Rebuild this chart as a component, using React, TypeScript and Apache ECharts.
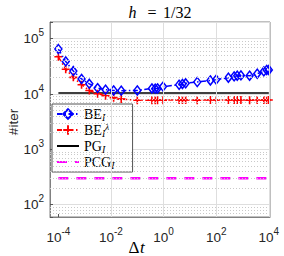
import React, { useEffect, useRef } from 'react';
import * as echarts from 'echarts';

// time steps (Δt)
const dt = [
  1e-4, 1.9e-4, 3.7e-4, 7.6e-4, 1.5e-3, 3.1e-3, 6.2e-3, 1.26e-2, 2.45e-2, 0.1,
  0.36, 0.48, 0.59, 0.95, 3.9, 5.2, 6.9, 19, 60, 100,
  290, 480, 630, 870, 1860, 3630, 6460, 8300, 10000,
];
// iterations BE_I
const beIter = [
  65000, 38800, 26000, 18700, 15300, 12800, 12000, 11600, 11500, 11600,
  12600, 12500, 12600, 13600, 14700, 15200, 15600, 16500, 17600, 18200,
  19700, 20800, 21400, 21700, 21400, 23300, 25600, 27200, 27200,
];
// iterations BE_I^lambda
const beLambdaIter = [
  47000, 28000, 20000, 14700, 11600, 10100, 9300, 8600, 8100, 7700,
  7700, 7700, 7700, 7750, 7800, 7800, 7800, 7750, 7800, 7800,
  7800, 7800, 7800, 7800, 7750, 7800, 7800, 7800, 7800,
];
// PG_I and PCG_I (constant lines)
const pgDt = [1e-4, 1e4];
const pgIter = [10400, 10400];
const pcgDt = [1e-4, 1e4];
const pcgIter = [300, 300];

const xMajorGrid = [1e-4, 1e-2, 1, 1e2, 1e4];
const yMinorGrid = [
  70, 80, 90,
  200, 300, 400, 500, 600, 700, 800, 900,
  2000, 3000, 4000, 5000, 6000, 7000, 8000, 9000,
  20000, 30000, 40000, 50000, 60000, 70000, 80000, 90000,
];

const legendNames = ['BE_I', 'BE_I^λ', 'PG_I', 'PCG_I'];
const legendLabels: Record<string, string> = {
  'BE_I': 'BE{sub|I}',
  'BE_I^λ': 'BE{sub|I}{sup|λ}',
  'PG_I': 'PG{sub|I}',
  'PCG_I': 'PCG{sub|I}',
};

const SANS = '"Liberation Sans", Arial, Helvetica, sans-serif';
const SERIF = '"Liberation Serif", "Times New Roman", serif';

function expLabel(v: number, onlyEven: boolean) {
  const l = Math.log10(v);
  const e = Math.round(l);
  if (Math.abs(l - e) > 1e-6) return '';
  if (onlyEven && e % 2 !== 0) return '';
  return `{b|10}{s|${e}}`;
}

const tickRich = {
  b: { fontSize: 13.5, lineHeight: 22, fontFamily: SANS, color: '#262626', verticalAlign: 'middle' },
  s: { fontSize: 10, lineHeight: 10, fontFamily: SANS, color: '#262626', verticalAlign: 'top' },
};

const transparent = 'rgba(0,0,0,0)';

export default function App() {
  const ref = useRef<HTMLDivElement>(null);
  useEffect(() => {
    if (!ref.current) return;
    const chart = echarts.init(ref.current, undefined, { renderer: 'svg' });
    const plus = 'path://M4,0H6V4H10V6H6V10H4V6H0V4H4Z';
    const serifText = (text: string, x: number, y: number, size: number, italic: boolean) => ({
      type: 'text', x, y, silent: true, z: 100,
      style: {
        text, align: 'left', verticalAlign: 'middle',
        fontFamily: SERIF, fontSize: size, fontStyle: italic ? 'italic' : 'normal', fill: '#000',
      },
    });
    const option: any = {
      animation: false,
      backgroundColor: '#ffffff',
      grid: {
        left: 50, right: 14, top: 22, bottom: 39,
        show: true, borderColor: '#808080', borderWidth: 1, backgroundColor: '#ffffff',
      },
      xAxis: {
        type: 'log',
        min: 4.8e-5,
        max: 1.11e4,
        axisLine: { show: true, lineStyle: { color: '#808080', width: 1 } },
        axisTick: { show: true, inside: true, length: 3, lineStyle: { color: '#555' }, customValues: xMajorGrid },
        splitLine: { show: false },
        axisLabel: {
          margin: 9,
          formatter: (v: number) => expLabel(v, true),
          rich: tickRich,
        },
      },
      yAxis: {
        type: 'log',
        min: 60,
        max: 2e5,
        axisLine: { show: true, lineStyle: { color: '#808080', width: 1 } },
        axisTick: { show: true, inside: true, length: 3, lineStyle: { color: '#555' } },
        splitLine: { show: true, lineStyle: { color: '#dedede', width: 1 } },
        axisLabel: {
          margin: 6,
          formatter: (v: number) => expLabel(v, false),
          rich: tickRich,
        },
      },
      legend: {
        data: legendNames,
        orient: 'vertical',
        left: 52,
        top: 104,
        padding: [2, 18, 2, 4],
        itemWidth: 22,
        itemHeight: 12,
        itemGap: 0,
        backgroundColor: '#ffffff',
        borderColor: '#555555',
        borderWidth: 1,
        borderRadius: 0,
        formatter: (name: string) => legendLabels[name] || name,
        textStyle: {
          fontFamily: SERIF,
          fontSize: 14,
          lineHeight: 16,
          color: '#000',
          rich: {
            sub: { fontFamily: SERIF, fontSize: 10, fontStyle: 'italic', lineHeight: 10, verticalAlign: 'bottom', color: '#000' },
            sup: { fontFamily: SERIF, fontSize: 9, fontStyle: 'italic', lineHeight: 9, verticalAlign: 'top', color: '#000' },
          },
        },
      },
      graphic: [
        serifText('h', 128.5, 12.5, 16, true),
        serifText('=', 147.5, 12.5, 16, false),
        serifText('1/32', 163, 12.5, 16, false),
        {
          type: 'text', x: 13, y: 122, rotation: Math.PI / 2, silent: true,
          style: {
            text: '#iter', align: 'center', verticalAlign: 'middle',
            fontFamily: SANS, fontSize: 13.5, fill: '#262626',
          },
        },
        serifText('Δ', 128.5, 247, 17, false),
        serifText('t', 140, 247, 17, true),
      ],
      series: [
        {
          name: 'grid',
          type: 'line',
          data: [],
          silent: true,
          z: 1,
          markLine: {
            silent: true,
            symbol: ['none', 'none'],
            label: { show: false },
            animation: false,
            data: [
              ...yMinorGrid.map((v) => ({ yAxis: v, lineStyle: { color: '#c9c9c9', type: [1, 2], width: 1 } })),
              ...xMajorGrid.map((v) => ({ xAxis: v, lineStyle: { color: '#dedede', type: 'solid', width: 1 } })),
            ],
          },
        },
        {
          name: 'BE_I',
          type: 'line',
          z: 4,
          data: dt.map((x, i) => [x, beIter[i]]),
          symbol: 'diamond',
          symbolSize: [7, 9],
          lineStyle: { color: '#0000ff', width: 1.5, type: [5, 2.5, 1.5, 2.5] },
          itemStyle: { color: 'rgba(255,255,255,0)', borderColor: '#0000ff', borderWidth: 1.5 },
        },
        {
          name: 'BE_I^λ',
          type: 'line',
          z: 3,
          data: dt.map((x, i) => [x, beLambdaIter[i]]),
          symbol: plus,
          symbolSize: 8,
          lineStyle: { color: '#ff0000', width: 1.5, type: [5, 2.5, 1.5, 2.5] },
          itemStyle: { color: '#ff0000' },
        },
        {
          name: 'PG_I',
          type: 'line',
          z: 2,
          data: pgDt.map((x, i) => [x, pgIter[i]]),
          symbol: 'none',
          lineStyle: { color: '#000000', width: 1.5 },
          itemStyle: { color: transparent, borderColor: transparent, borderWidth: 0 },
        },
        {
          name: 'PCG_I',
          type: 'line',
          z: 2,
          data: pcgDt.map((x, i) => [x, pcgIter[i]]),
          symbol: 'none',
          lineStyle: { color: '#ff00ff', width: 2.5, type: [10, 8] },
          itemStyle: { color: transparent, borderColor: transparent, borderWidth: 0 },
        },
      ],
    };
    chart.setOption(option);
    return () => chart.dispose();
  }, []);
  return (
    <div
      ref={ref}
      style={{ position: 'fixed', left: 0, top: 0, width: 284, height: 256, background: '#fff' }}
    />
  );
}
